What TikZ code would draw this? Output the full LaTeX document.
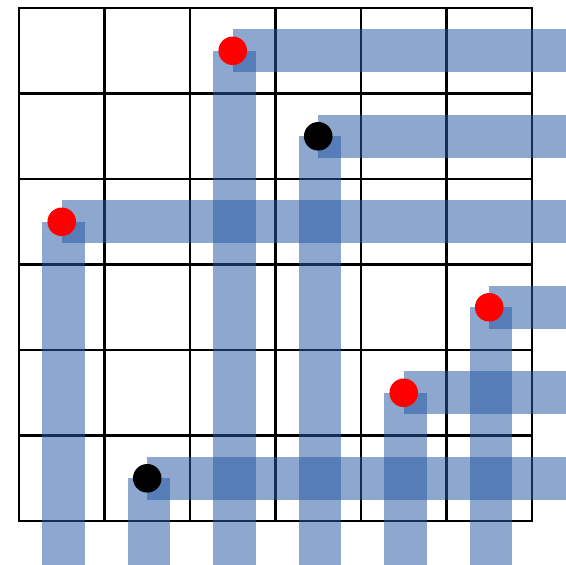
\documentclass[tikz,border=0pt]{standalone}
\definecolor{barblue}{RGB}{40,88,165}
\tikzset{
  bar/.style={fill=barblue, fill opacity=0.53},
  dot/.style={radius=0.167}
}
\begin{document}
\begin{tikzpicture}[x=85.5pt, y=85.5pt]
        \useasboundingbox (-0.222,-0.503) rectangle (6.398,6.094);
        \draw[line width=2.8pt, line cap=rect, step=85.5pt] (0,0) grid (6,6);
        % bars to the right and down from each marked cell
        \foreach \cx/\cy/\col in {2.5/5.5/red, 3.5/4.5/black, 0.5/3.5/red, 5.5/2.5/red, 4.5/1.5/red, 1.5/0.5/black}{%
            \fill[bar] (\cx,\cy-0.25) rectangle (6.5,\cy+0.25);
            \fill[bar] (\cx-0.23,-0.6) rectangle (\cx+0.27,\cy);
        }
        \foreach \cx/\cy/\col in {2.5/5.5/red, 3.5/4.5/black, 0.5/3.5/red, 5.5/2.5/red, 4.5/1.5/red, 1.5/0.5/black}{%
            \fill[\col, dot] (\cx,\cy) circle;
        }
    \end{tikzpicture}
\end{document}
